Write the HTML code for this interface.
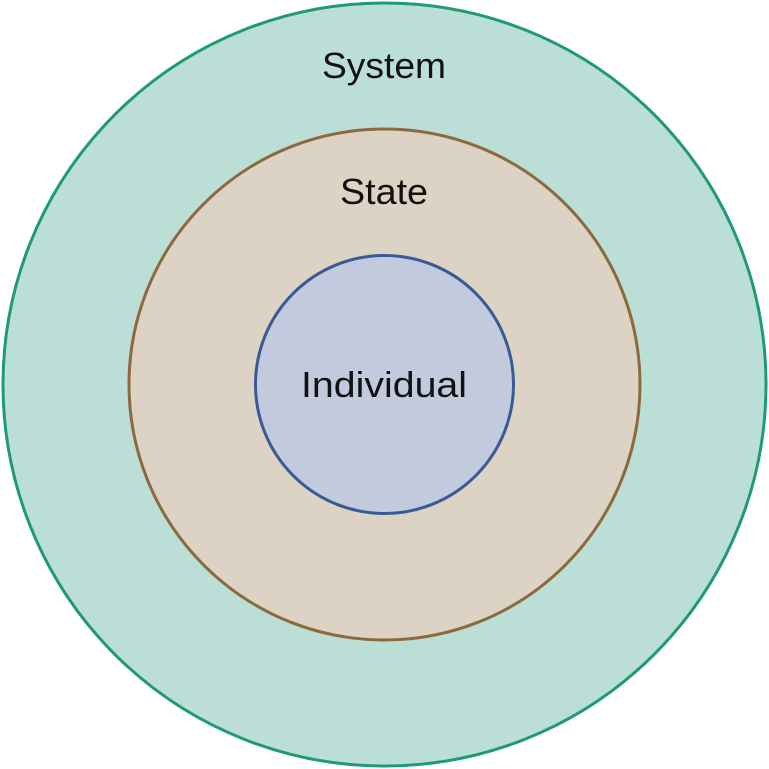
<!DOCTYPE html>
<html>
<head>
<meta charset="utf-8">
<style>
  html, body { margin: 0; padding: 0; background: #ffffff; }
  svg { display: block; }
  text { font-family: "Liberation Sans", "DejaVu Sans", sans-serif; font-size: 36px; fill: #111111; }
</style>
</head>
<body>
<svg width="769" height="769" viewBox="0 0 769 769" xmlns="http://www.w3.org/2000/svg">
  <circle cx="384.5" cy="384.5" r="381.5" fill="#bbdfd7" stroke="#1e9a78" stroke-width="3"/>
  <circle cx="384.5" cy="384.5" r="255.5" fill="#ddd3c5" stroke="#8c6a3e" stroke-width="3"/>
  <circle cx="384.5" cy="384.5" r="129" fill="#c2cbdd" stroke="#3a5a96" stroke-width="3"/>
  <text x="322" y="78" textLength="124" lengthAdjust="spacingAndGlyphs">System</text>
  <text x="340" y="204" textLength="88" lengthAdjust="spacingAndGlyphs">State</text>
  <text x="301" y="397" textLength="166" lengthAdjust="spacingAndGlyphs">Individual</text>
</svg>
</body>
</html>
